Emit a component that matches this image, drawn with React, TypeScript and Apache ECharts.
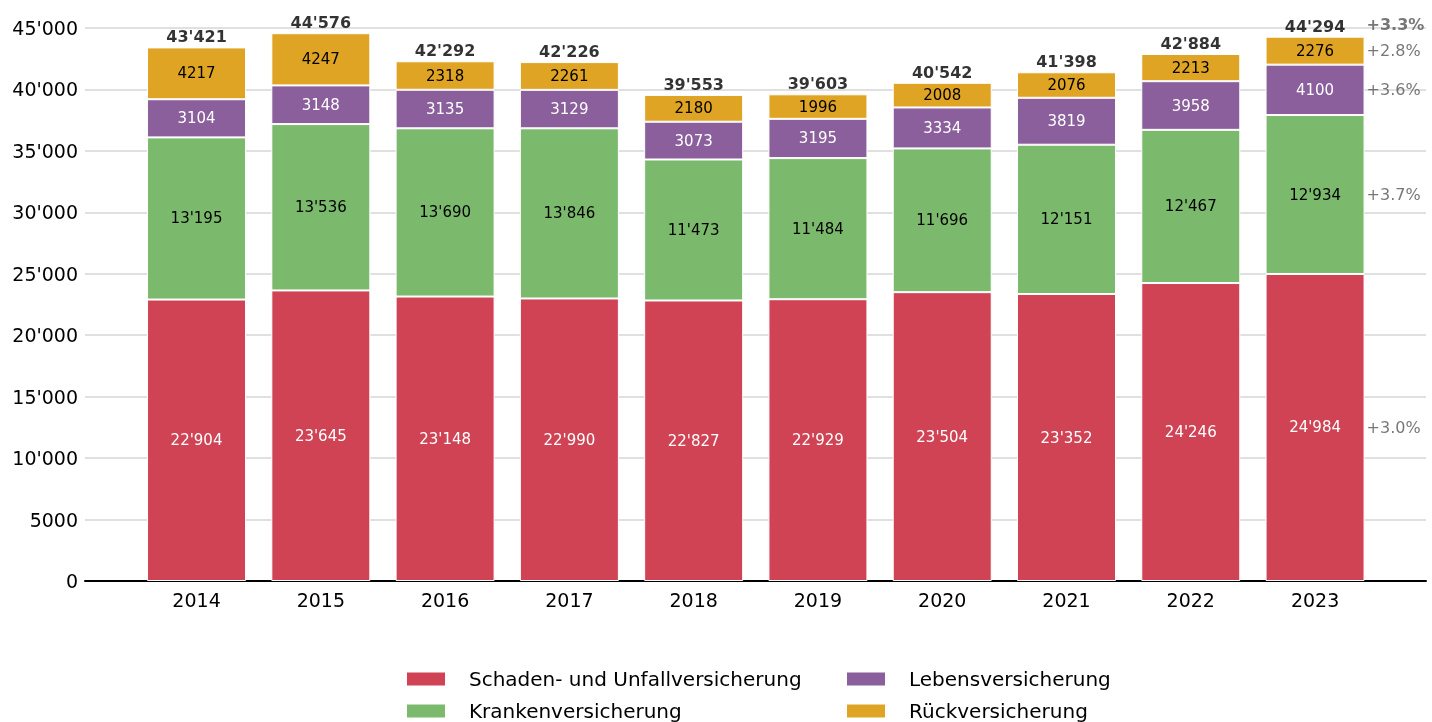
import React, { useEffect, useRef } from "react";
import * as echarts from "echarts";

const years = ["2014", "2015", "2016", "2017", "2018", "2019", "2020", "2021", "2022", "2023"];
const schaden = [22904, 23645, 23148, 22990, 22827, 22929, 23504, 23352, 24246, 24984];
const kranken = [13195, 13536, 13690, 13846, 11473, 11484, 11696, 12151, 12467, 12934];
const leben = [3104, 3148, 3135, 3129, 3073, 3195, 3334, 3819, 3958, 4100];
const rueck = [4217, 4247, 2318, 2261, 2180, 1996, 2008, 2076, 2213, 2276];
const totals = [43421, 44576, 42292, 42226, 39553, 39603, 40542, 41398, 42884, 44294];
const growthLabels = ["+3.0%", "+3.7%", "+3.6%", "+2.8%"];
const totalGrowth = "+3.3%";
const seriesNames = [
  "Schaden- und Unfallversicherung",
  "Krankenversicherung",
  "Lebensversicherung",
  "Rückversicherung",
];
const colors = ["#CF4355", "#7BBA6C", "#8A5F9B", "#E0A424"];
const labelColors = ["#ffffff", "#000000", "#ffffff", "#000000"];
const legendPos = [
  [405, 669],
  [405, 701],
  [845, 669],
  [845, 701],
];

const FONT = "DejaVu Sans";

const fmt = (v: number) =>
  v >= 10000 ? Math.floor(v / 1000) + "'" + String(v % 1000).padStart(3, "0") : String(v);

export default function App() {
  const ref = useRef<HTMLDivElement>(null);
  useEffect(() => {
    if (!ref.current) return;
    const chart = echarts.init(ref.current, undefined, { renderer: "svg" });
    const segs = [schaden, kranken, leben, rueck];
    const last = years.length - 1;
    let base = 0;
    const pctData: any[] = segs.map((arr, k) => {
      const c = base + arr[last] / 2;
      base += arr[last];
      return { value: [last, c], label: { formatter: growthLabels[k] } };
    });
    pctData.push({
      value: [last, totals[last]],
      label: { formatter: totalGrowth, fontWeight: "bold", offset: [0, -12] },
    });

    const option: any = {
      animation: false,
      textStyle: { fontFamily: FONT },
      grid: [
        { left: 85, right: 6, top: 28, bottom: 141, containLabel: false },
        { left: 134.4, right: 54.8, top: 28, bottom: 141, containLabel: false },
      ],
      xAxis: [
        {
          gridIndex: 0,
          type: "value",
          min: 0,
          max: 1,
          axisLine: { show: true, lineStyle: { color: "#000", width: 2 } },
          axisTick: { show: false },
          axisLabel: { show: false },
          splitLine: { show: false },
        },
        {
          gridIndex: 1,
          type: "category",
          data: years,
          axisLine: { show: false },
          axisTick: { show: false },
          axisLabel: { color: "#000", fontSize: 19, fontFamily: FONT, margin: 9 },
        },
      ],
      yAxis: [
        {
          gridIndex: 0,
          type: "value",
          min: 0,
          max: 45000,
          interval: 5000,
          axisLine: { show: false },
          axisTick: { show: false },
          axisLabel: {
            color: "#000",
            fontSize: 19,
            fontFamily: FONT,
            margin: 7,
            formatter: (v: number) => fmt(v),
          },
          splitLine: { show: true, lineStyle: { color: "#d6d6d6", width: 1.5 } },
        },
        {
          gridIndex: 1,
          type: "value",
          min: 0,
          max: 45000,
          show: false,
          splitLine: { show: false },
        },
      ],
      legend: seriesNames.map((n, k) => ({
        left: legendPos[k][0],
        top: legendPos[k][1],
        icon: "rect",
        itemWidth: 40,
        itemHeight: 15,
        padding: 0,
        data: [n],
        textStyle: { fontSize: 20, fontFamily: FONT, color: "#000", padding: [0, 0, 0, 18] },
      })),
      series: [
        ...segs.map((arr, k) => ({
          name: seriesNames[k],
          type: "bar",
          stack: "total",
          xAxisIndex: 1,
          yAxisIndex: 1,
          barWidth: 99,
          data: arr,
          itemStyle: { color: colors[k], borderColor: "#ffffff", borderWidth: 1 },
          label: {
            show: true,
            position: "inside",
            color: labelColors[k],
            fontSize: 15,
            fontFamily: FONT,
            formatter: (p: any) => fmt(p.value),
          },
        })),
        {
          name: "totals",
          type: "scatter",
          xAxisIndex: 1,
          yAxisIndex: 1,
          symbolSize: 1,
          itemStyle: { color: "rgba(0,0,0,0)" },
          data: totals.map((v, i) => [i, v]),
          label: {
            show: true,
            position: "top",
            distance: 2,
            color: "#000",
            fontWeight: "bold",
            fontSize: 16,
            fontFamily: FONT,
            formatter: (p: any) => fmt(p.value[1]),
          },
          z: 5,
        },
        {
          name: "growth",
          type: "scatter",
          xAxisIndex: 1,
          yAxisIndex: 1,
          symbolSize: 1,
          itemStyle: { color: "rgba(0,0,0,0)" },
          data: pctData,
          label: {
            show: true,
            position: "right",
            distance: 51,
            color: "#555",
            fontSize: 16,
            fontFamily: FONT,
          },
          z: 5,
        },
      ],
    };
    chart.setOption(option);
    return () => chart.dispose();
  }, []);
  return (
    <div
      ref={ref}
      style={{ position: "fixed", left: 0, top: 0, width: 1432, height: 722 }}
    />
  );
}
